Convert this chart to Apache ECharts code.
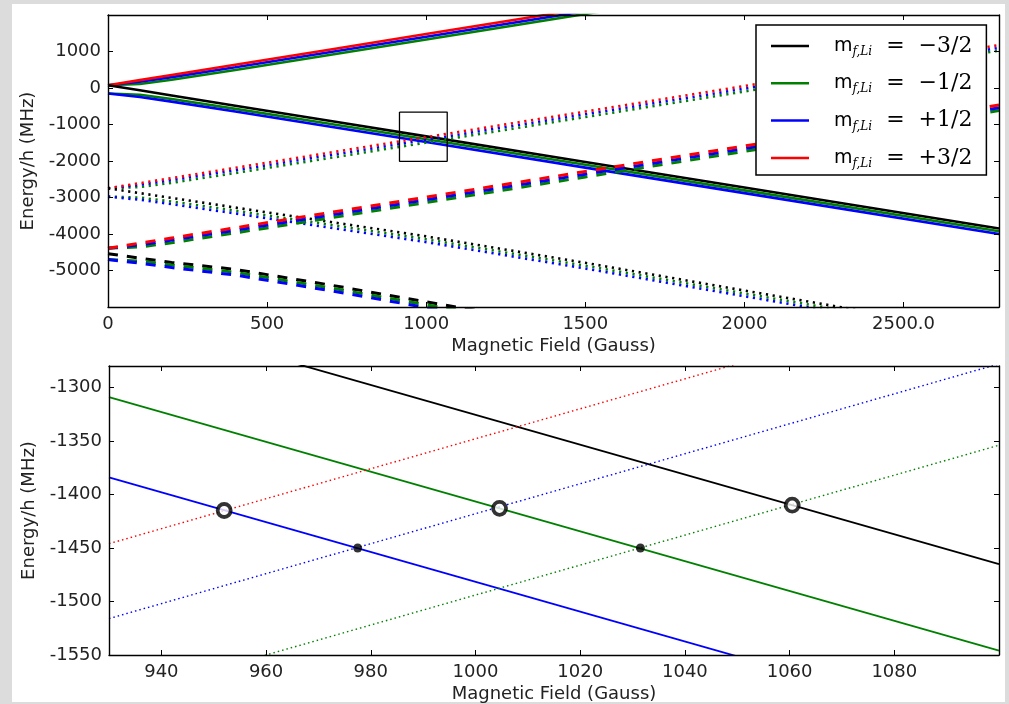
<!DOCTYPE html>
<html><head><meta charset="utf-8">
<script src="https://cdn.jsdelivr.net/npm/echarts@6/dist/echarts.min.js"></script>
<style>
html,body{margin:0;padding:0;background:#dcdcdc;}
#panel{position:absolute;left:12px;top:4px;width:993px;height:698px;background:#fff;}
#c{position:absolute;left:0;top:0;width:1009px;height:704px;}
</style></head>
<body><div id="panel"></div><div id="c"></div>
<script>
// ---------- DATA ----------
// colour keys and legend labels (m_f,Li)
const colorKeys = ['k', 'g', 'b', 'r'];
const legendLabels = ['\u22123/2', '\u22121/2', '+1/2', '+3/2'];

// top panel: magnetic field samples (Gauss)
const topB = [0, 100, 200, 400, 700, 1000, 1500, 2000, 2800];
// solid, rising
const solidUpR = [76, 216, 356, 636, 1057, 1477, 2178, 2878, 3999];
const solidUpB = [76, 170, 298, 570, 987, 1405, 2105, 2805, 3925];
const solidUpG = [76, 110, 227, 495, 911, 1329, 2029, 2729, 3849];
// solid, falling
const solidDnK = [76, -64, -204, -484, -905, -1325, -2026, -2726, -3847];
const solidDnG = [-152, -186, -303, -571, -987, -1405, -2105, -2805, -3925];
const solidDnB = [-152, -246, -374, -646, -1063, -1481, -2181, -2881, -4001];
// dotted, rising
const dotUpR = [-2748, -2608, -2468, -2188, -1767, -1347, -646, 54, 1175];
const dotUpB = [-2748, -2654, -2526, -2254, -1837, -1419, -719, -19, 1101];
const dotUpG = [-2748, -2714, -2597, -2329, -1913, -1495, -795, -95, 1025];
// dotted, falling
const dotDnK = [-2748, -2880, -3011, -3275, -3671, -4066, -4790, -5550, -6750];
const dotDnG = [-2976, -3002, -3110, -3362, -3753, -4146, -4870, -5630, -6830];
const dotDnB = [-2976, -3062, -3181, -3437, -3829, -4222, -4945, -5705, -6905];
// dashed, rising
const dashUpR = [-4390, -4250, -4110, -3830, -3409, -2989, -2288, -1588, -467];
const dashUpB = [-4390, -4296, -4168, -3896, -3479, -3061, -2361, -1661, -541];
const dashUpG = [-4390, -4356, -4239, -3971, -3555, -3137, -2437, -1737, -617];
// dashed, falling
const dashDnK = [-4540, -4660, -4780, -4970, -5400, -5860, -6600, -7330, -8480];
const dashDnG = [-4700, -4740, -4850, -5050, -5480, -5940, -6680, -7410, -8560];
const dashDnB = [-4700, -4800, -4920, -5125, -5555, -6015, -6755, -7485, -8640];
// zoom box drawn in top panel (field range, energy range)
const boxB = [916, 1066];
const boxE = [-660, -2010];
// top panel ticks
const topXTicks = [0, 500, 1000, 1500, 2000, 2500];
const topXTickLabels = ['0', '500', '1000', '1500', '2000', '2500.0'];

// bottom panel (zoom): end points of each line
const zoomB = [930, 1100];
const zSolidK = [-1228, -1465];
const zSolidG = [-1309, -1546];
const zSolidB = [-1384, -1621];
const zDotR = [-1446, -1208];
const zDotB = [-1516, -1278];
const zDotG = [-1592, -1354];
// crossing markers
const openCircles = [[952, -1415], [1004.6, -1413], [1060.5, -1410]];
const filledDots = [[977.5, -1450], [1031.5, -1450]];
const bottomXTicks = [940, 960, 980, 1000, 1020, 1040, 1060, 1080];

// ---------- STYLE ----------
const COLORS = { k: '#000000', g: '#008000', b: '#0000ff', r: '#ff0000' };
const FONT = 'DejaVu Sans';
const topBands = [
  ['g', 'solid', solidUpG], ['b', 'solid', solidUpB], ['r', 'solid', solidUpR],
  ['k', 'solid', solidDnK], ['g', 'solid', solidDnG], ['b', 'solid', solidDnB],
  ['g', 'dotted', dotUpG], ['b', 'dotted', dotUpB], ['r', 'dotted', dotUpR],
  ['k', 'dotted', dotDnK], ['g', 'dotted', dotDnG], ['b', 'dotted', dotDnB],
  ['g', 'dashed', dashUpG], ['b', 'dashed', dashUpB], ['r', 'dashed', dashUpR],
  ['k', 'dashed', dashDnK], ['g', 'dashed', dashDnG], ['b', 'dashed', dashDnB]
];
const styleOf = {
  solid: { width: 2.6, type: 'solid' },
  dotted: { width: 2.6, type: [2.2, 4.6] },
  dashed: { width: 3, type: [10, 9] }
};

const series = [];
const solidFirst = topBands.slice().sort((a, b) => (a[1] === 'solid' ? 0 : 1) - (b[1] === 'solid' ? 0 : 1));
solidFirst.forEach(([c, st, ys]) => {
  series.push({
    type: 'line', name: c, xAxisIndex: 0, yAxisIndex: 0,
    data: topB.map((b, i) => [b, ys[i]]),
    symbol: 'none', showSymbol: false, silent: true, clip: true,
    itemStyle: { color: COLORS[c] },
    lineStyle: { color: COLORS[c], width: styleOf[st].width, type: styleOf[st].type, cap: 'butt' },
    z: 2
  });
});
series.push({
  type: 'line', name: 'box', xAxisIndex: 0, yAxisIndex: 0,
  data: [[boxB[0], boxE[0]], [boxB[1], boxE[0]], [boxB[1], boxE[1]], [boxB[0], boxE[1]], [boxB[0], boxE[0]]],
  symbol: 'none', silent: true, clip: true,
  lineStyle: { color: '#000', width: 1.3 }, itemStyle: { color: '#000' }, z: 3
});
[['k', 'solid', zSolidK], ['g', 'solid', zSolidG], ['b', 'solid', zSolidB],
 ['r', 'dotted', zDotR], ['b', 'dotted', zDotB], ['g', 'dotted', zDotG]].forEach(([c, st, ys]) => {
  series.push({
    type: 'line', name: c, xAxisIndex: 2, yAxisIndex: 2,
    data: zoomB.map((b, i) => [b, ys[i]]),
    symbol: 'none', showSymbol: false, silent: true, clip: true,
    itemStyle: { color: COLORS[c] },
    lineStyle: { color: COLORS[c], width: st === 'solid' ? 1.8 : 1.4, type: st === 'solid' ? 'solid' : [1.5, 3] },
    z: 2
  });
});
series.push({
  type: 'scatter', name: 'open', xAxisIndex: 2, yAxisIndex: 2, data: openCircles,
  symbol: 'circle', symbolSize: 13, silent: true,
  itemStyle: { color: '#fff', borderColor: '#000', borderWidth: 3.8 }, z: 5
});
series.push({
  type: 'scatter', name: 'dot', xAxisIndex: 2, yAxisIndex: 2, data: filledDots,
  symbol: 'circle', symbolSize: 9, silent: true,
  itemStyle: { color: '#000' }, z: 5
});

const labelStyle = { fontFamily: FONT, fontSize: 18, color: '#222' };
const nameStyle = { fontFamily: FONT, fontSize: 18, color: '#222' };
const lineAx = { show: true, onZero: false, lineStyle: { color: '#000', width: 1.4 } };
const tickAx = { show: true, inside: true, length: 5, lineStyle: { color: '#000', width: 1 } };

function xAxes(grid, min, max, extra, labelFmt) {
  return [
    Object.assign({
      type: 'value', gridIndex: grid, min, max, position: 'bottom', z: 10,
      axisLine: lineAx, axisTick: tickAx, splitLine: { show: false },
      axisLabel: Object.assign({ margin: 8, showMinLabel: true, showMaxLabel: false, formatter: labelFmt }, labelStyle),
      name: 'Magnetic Field (Gauss)', nameLocation: 'middle', nameGap: 30, nameTextStyle: nameStyle
    }, extra),
    Object.assign({
      type: 'value', gridIndex: grid, min, max, position: 'top', z: 10,
      axisLine: lineAx, axisTick: tickAx, splitLine: { show: false }, axisLabel: { show: false }
    }, extra)
  ];
}
function yAxes(grid, min, max, interval) {
  return [
    {
      type: 'value', gridIndex: grid, min, max, interval, position: 'left', z: 10,
      axisLine: lineAx, axisTick: tickAx, splitLine: { show: false },
      axisLabel: Object.assign({ margin: 7, showMinLabel: grid === 1, showMaxLabel: false, formatter: v => String(v) }, labelStyle),
      name: 'Energy/h (MHz)', nameLocation: 'middle', nameGap: 54, nameRotate: 90, nameTextStyle: nameStyle
    },
    {
      type: 'value', gridIndex: grid, min, max, interval, position: 'right', z: 10,
      axisLine: lineAx, axisTick: tickAx, splitLine: { show: false }, axisLabel: { show: false }
    }
  ];
}

const option = {
  animation: false,
  grid: [
    { left: 108, top: 15, width: 891, height: 292 },
    { left: 109, top: 366, width: 890, height: 292 }
  ],
  xAxis: [
    ...xAxes(0, 0, 2800, { interval: 500 }, v => { const i = topXTicks.indexOf(v); return i >= 0 ? topXTickLabels[i] : ''; }),
    ...xAxes(1, 930, 1100, { minInterval: 20, maxInterval: 20 }, v => bottomXTicks.indexOf(v) >= 0 ? String(v) : '')
  ],
  yAxis: [
    ...yAxes(0, -6000, 2000, 1000),
    ...yAxes(1, -1550, -1280, 50)
  ],
  legend: {
    data: colorKeys, orient: 'vertical', left: 756, top: 25,
    padding: [10, 14, 5, 15], itemGap: 14.3, itemWidth: 38, itemHeight: 2.5, icon: 'rect',
    borderColor: '#000', borderWidth: 1.5, backgroundColor: '#fff', selectedMode: false,
    formatter: name => '{m|m}{s|f,Li}{e|  =  ' + legendLabels[colorKeys.indexOf(name)] + '}',
    textStyle: {
      rich: {
        m: { fontFamily: FONT, fontSize: 19, color: '#000', lineHeight: 24, padding: [0, 0, 0, 20] },
        s: { fontFamily: 'DejaVu Serif', fontStyle: 'italic', fontSize: 12, color: '#000', lineHeight: 24, verticalAlign: 'bottom' },
        e: { fontFamily: 'DejaVu Serif', fontSize: 22, color: '#000', lineHeight: 24 }
      }
    }
  },
  series
};
const chart = echarts.init(document.getElementById('c'));
chart.setOption(option);
</script></body></html>
